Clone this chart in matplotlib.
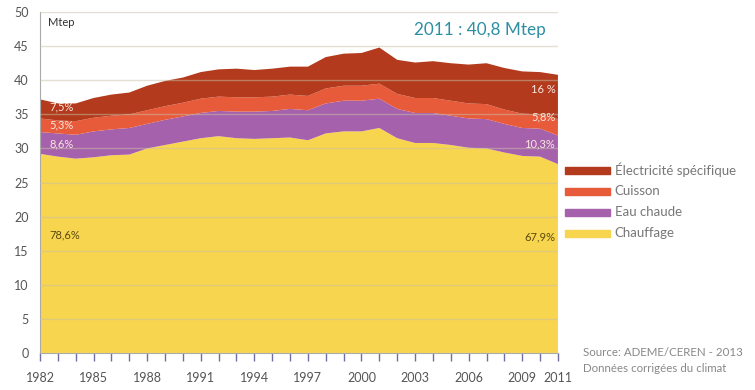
import matplotlib
matplotlib.use("Agg")
import matplotlib.pyplot as plt

plt.rcParams["font.family"] = ["Lato", "DejaVu Sans"]

# Consommation d'énergie des résidences principales, Mtep (corrigé du climat)
years = list(range(1982, 2012))
chauffage = [29.2, 28.8, 28.5, 28.7, 29.0, 29.1, 30.0, 30.5, 31.0, 31.5,
             31.8, 31.5, 31.4, 31.5, 31.6, 31.2, 32.2, 32.5, 32.5, 33.0,
             31.5, 30.8, 30.8, 30.5, 30.1, 30.0, 29.4, 28.9, 28.8, 27.7]
eau_chaude = [3.2, 3.4, 3.5, 3.8, 3.8, 3.9, 3.6, 3.7, 3.7, 3.7,
              3.7, 3.9, 4.0, 4.0, 4.2, 4.4, 4.4, 4.5, 4.5, 4.3,
              4.3, 4.4, 4.4, 4.3, 4.3, 4.3, 4.2, 4.1, 4.1, 4.2]
cuisson = [2.0, 1.9, 2.0, 2.0, 2.0, 2.0, 2.0, 2.0, 2.0, 2.1,
           2.1, 2.1, 2.1, 2.1, 2.1, 2.1, 2.2, 2.2, 2.2, 2.2,
           2.2, 2.2, 2.2, 2.2, 2.2, 2.2, 2.1, 2.1, 2.1, 2.4]
electricite = [2.8, 2.5, 2.6, 2.9, 3.1, 3.2, 3.6, 3.7, 3.7, 3.9,
               4.0, 4.2, 4.0, 4.1, 4.1, 4.3, 4.6, 4.7, 4.8, 5.3,
               5.0, 5.2, 5.4, 5.5, 5.7, 6.0, 6.1, 6.2, 6.2, 6.5]

labels = ["Chauffage", "Eau chaude", "Cuisson", "Électricité spécifique"]
colors = ["#F8D54E", "#A661AC", "#E75B3B", "#B33A1C"]

pct_1982 = ["78,6%", "8,6%", "5,3%", "7,5%"]
pct_2011 = ["67,9%", "10,3%", "5,8%", "16 %"]
xtick_years = [1982, 1985, 1988, 1991, 1994, 1997, 2000, 2003, 2006, 2009, 2011]

fig = plt.figure(figsize=(7.55, 3.9), dpi=100)
ax = fig.add_axes([0.053, 0.095, 0.686, 0.874])

series = [chauffage, eau_chaude, cuisson, electricite]
ax.stackplot(years, *series, colors=colors, linewidth=0)

ax.set_xlim(1982, 2011)
ax.set_ylim(0, 50)
ax.set_yticks(range(0, 55, 5))
ax.set_xticks(xtick_years)
ax.set_xticks(years, minor=True)
for y in range(5, 55, 5):
    ax.axhline(y, color="#c8c0a8", lw=1.0, alpha=0.5, zorder=3)

for s in ["top", "right"]:
    ax.spines[s].set_visible(False)
ax.spines["left"].set_color("#aaaaaa")
ax.spines["bottom"].set_color("#aaaaaa")
ax.tick_params(axis="y", length=0, labelsize=9, colors="#555555", pad=8)
ax.tick_params(axis="x", which="both", length=6, width=1, direction="out",
               color="#7070a0", labelsize=9, labelcolor="#555555", pad=8)

ax.text(1982.45, 48.5, "Mtep", fontsize=8, color="#333333", va="center")
ax.text(2010.3, 47.3, "2011 : 40,8 Mtep", fontsize=12.3, color="#2E8FA3",
        ha="right", va="center")

# pourcentages
y82 = [17.3, 30.6, 33.4, 36.1]
y11 = [17.0, 30.6, 34.6, 38.6]
for i in range(4):
    col = "#5a4a10" if i == 0 else "#f8e8e0"
    ax.text(1982.55, y82[i], pct_1982[i], fontsize=8, color=col, va="center")
    ax.text(2010.85, y11[i], pct_2011[i], fontsize=8, color=col,
            va="center", ha="right")

# légende
ly = [0.564, 0.510, 0.456, 0.402]
for i in [3, 2, 1, 0]:
    yy = ly[3 - i]
    fig.patches.append(plt.Rectangle((0.748, yy - 0.009), 0.060, 0.018,
                                     transform=fig.transFigure,
                                     color=colors[i]))
    fig.text(0.814, yy, labels[i], fontsize=9.5, color="#777777", va="center")

fig.text(0.772, 0.097, "Source: ADEME/CEREN - 2013", fontsize=8.3,
         color="#888888", va="center")
fig.text(0.772, 0.056, "Données corrigées du climat", fontsize=8.3,
         color="#888888", va="center")

fig.savefig("out.png", dpi=100)
